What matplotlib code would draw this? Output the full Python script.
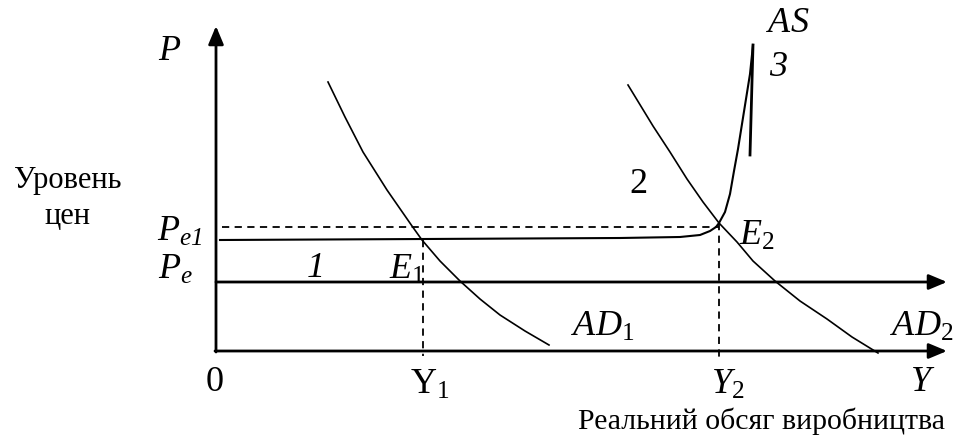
import matplotlib
matplotlib.use("Agg")
import matplotlib.pyplot as plt

plt.rcParams["font.family"] = ["Liberation Serif", "DejaVu Serif"]
plt.rcParams["mathtext.fontset"] = "custom"
plt.rcParams["mathtext.rm"] = "Liberation Serif"
plt.rcParams["mathtext.it"] = "Liberation Serif:italic"
# курсивные цифры (mathtext.it рисует цифры прямо)
plt.rcParams["mathtext.sf"] = "Liberation Serif:italic"

# точки кривых (координаты рисунка, ось y вниз)
ad1_x = [328, 345, 363, 387, 412, 422, 440, 460, 480, 500, 525, 549]
ad1_y = [83, 118, 153, 191, 227, 241, 262, 282, 300, 316, 332, 346]

ad2_x = [628, 653, 670, 687, 703, 719, 737, 753, 775, 800, 827, 852, 878]
ad2_y = [86, 127, 153, 180, 203, 224, 243, 262, 282, 302, 320, 338, 354]

as_x = [220, 425, 620, 680, 700, 710, 716, 719, 725, 730, 734, 738, 742, 746, 750, 753]
as_y = [241, 240, 239, 238, 236, 232, 228, 224, 213, 195, 172, 150, 125, 100, 75, 46]

as3_x = [753, 750]
as3_y = [46, 156]

# оси и уровни
origin = (216, 352)
y_top = 27
x_end = 947
pe_level = 283
pe1_level = 228
e1 = (423, 241)
e2 = (719, 224)

fig = plt.figure(figsize=(9.54, 4.39), dpi=100)
ax = fig.add_axes([0, 0, 1, 1])
ax.set_xlim(0, 954)
ax.set_ylim(439, 0)
ax.axis("off")

arrow = dict(arrowstyle="-|>,head_length=0.55,head_width=0.23", lw=2.0,
             color="black", mutation_scale=20, shrinkA=0, shrinkB=0)
ax.annotate("", xy=(origin[0], y_top), xytext=(origin[0], origin[1] + 1), arrowprops=arrow)
ax.annotate("", xy=(x_end, origin[1]), xytext=(origin[0] - 1, origin[1]), arrowprops=arrow)
ax.annotate("", xy=(x_end, pe_level), xytext=(origin[0], pe_level), arrowprops=arrow)

# пунктиры
ax.plot([222, e2[0]], [pe1_level, pe1_level], "k--", lw=1.3, dashes=(4, 3))
ax.plot([e1[0], e1[0]], [e1[1], 357], "k--", lw=1.3, dashes=(4, 3))
ax.plot([e2[0], e2[0]], [e2[1], 358], "k--", lw=1.3, dashes=(4, 3))

# кривые
ax.plot(ad1_x, ad1_y, color="black", lw=1.2, solid_joinstyle="round")
ax.plot(ad2_x, ad2_y, color="black", lw=1.2, solid_joinstyle="round")
ax.plot(as_x, as_y, color="black", lw=1.5, solid_joinstyle="round")
ax.plot(as3_x, as3_y, color="black", lw=2.0)

# подписи
big = 26
kw = dict(fontsize=big, ha="center", va="center")
ax.text(170, 52, "$P$", **kw)
ax.text(180, 232, r"$P_{\mathsf{e1}}$", **kw)
ax.text(175, 270, "$P_e$", **kw)
ax.text(316, 269, "1", fontstyle="italic", **kw)
ax.text(407, 270, "$E_1$", **kw)
ax.text(638, 185, "2", **kw)
ax.text(757, 236, "$E_2$", **kw)
ax.text(788, 24, "$AS$", **kw)
ax.text(778, 67, "3", fontstyle="italic", **kw)
ax.text(603, 327, "$AD_1$", **kw)
ax.text(922, 327, "$AD_2$", **kw)
ax.text(215, 383, "0", **kw)
ax.text(430, 385, r"$\mathrm{Y}_1$", **kw)
ax.text(728, 385, "$Y_2$", **kw)
ax.text(923, 383, "$Y$", **kw)

ax.text(68, 181, "Уровень", fontsize=22, ha="center", va="center")
ax.text(67, 217, "цен", fontsize=22, ha="center", va="center")
ax.text(762, 421, "Реальний обсяг виробництва", fontsize=21.5, ha="center", va="center")

fig.savefig("out.png", dpi=100)
